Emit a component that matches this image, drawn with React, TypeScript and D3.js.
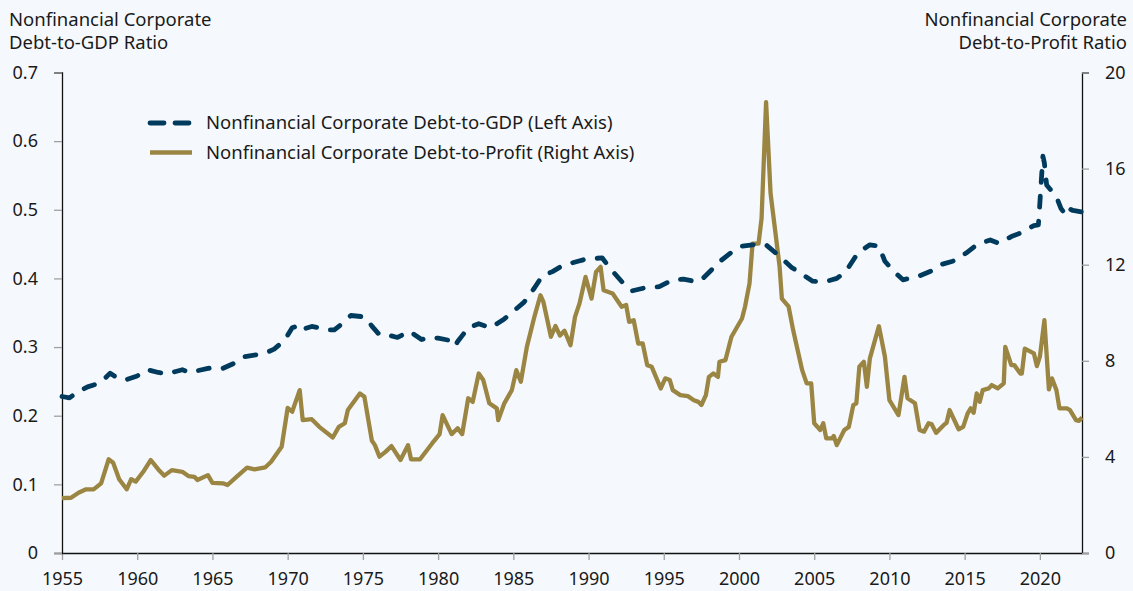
import React, { useEffect, useRef } from 'react';
import * as d3 from 'd3';

// Nonfinancial corporate debt-to-GDP (left axis), [year, ratio]
const debtToGdp: [number, number][] = [
  [1955.0, 0.228], [1955.5, 0.226], [1956.0, 0.234], [1956.7, 0.242], [1957.3, 0.246],
  [1957.7, 0.251], [1958.2, 0.262], [1958.6, 0.256], [1959.2, 0.252], [1959.9, 0.257],
  [1960.4, 0.262], [1960.7, 0.267], [1961.4, 0.263], [1962.0, 0.261], [1962.5, 0.264],
  [1963.0, 0.267], [1963.5, 0.263], [1963.9, 0.265], [1964.7, 0.269], [1965.2, 0.270],
  [1965.7, 0.269], [1966.5, 0.277], [1967.1, 0.286], [1968.0, 0.289], [1968.7, 0.293],
  [1969.1, 0.297], [1969.8, 0.310], [1970.3, 0.328], [1970.8, 0.332], [1971.0, 0.326],
  [1971.6, 0.330], [1972.1, 0.328], [1972.6, 0.325], [1973.1, 0.325], [1973.5, 0.332],
  [1974.2, 0.346], [1975.1, 0.344], [1975.7, 0.328], [1976.1, 0.318], [1976.6, 0.318],
  [1977.3, 0.314], [1978.1, 0.323], [1978.9, 0.311], [1979.4, 0.314], [1980.0, 0.313],
  [1980.7, 0.310], [1981.1, 0.301], [1981.3, 0.308], [1982.0, 0.328], [1982.7, 0.334],
  [1983.5, 0.328], [1984.4, 0.341], [1985.1, 0.354], [1985.7, 0.365], [1986.4, 0.386],
  [1986.9, 0.403], [1987.6, 0.410], [1988.3, 0.419], [1989.3, 0.425], [1989.8, 0.428],
  [1990.9, 0.430], [1991.5, 0.413], [1992.3, 0.393], [1992.9, 0.382], [1993.9, 0.387],
  [1994.7, 0.388], [1995.6, 0.398], [1996.3, 0.399], [1997.2, 0.395], [1997.6, 0.400],
  [1998.2, 0.413], [1998.8, 0.426], [1999.5, 0.438], [2000.2, 0.447], [2000.9, 0.449],
  [2001.8, 0.449], [2002.6, 0.434], [2003.5, 0.416], [2004.0, 0.409], [2004.9, 0.396],
  [2005.7, 0.395], [2006.5, 0.400], [2007.1, 0.410], [2007.9, 0.437], [2008.7, 0.449],
  [2009.3, 0.447], [2009.7, 0.425], [2010.3, 0.410], [2010.9, 0.398], [2011.9, 0.403],
  [2012.7, 0.410], [2013.4, 0.420], [2014.2, 0.425], [2015.1, 0.437], [2015.8, 0.449],
  [2016.7, 0.456], [2017.3, 0.451], [2018.1, 0.461], [2018.7, 0.466], [2019.6, 0.477],
  [2019.9, 0.478], [2020.0, 0.510], [2020.2, 0.578], [2020.3, 0.568], [2020.45, 0.536],
  [2021.1, 0.519], [2021.4, 0.502], [2021.7, 0.493], [2021.9, 0.502], [2022.2, 0.499],
  [2022.75, 0.497],
];

// Nonfinancial corporate debt-to-profit (right axis), [year, ratio]
const debtToProfit: [number, number][] = [
  [1955.0, 2.28], [1955.6, 2.30], [1956.1, 2.51], [1956.6, 2.65], [1957.1, 2.65],
  [1957.6, 2.90], [1958.1, 3.90], [1958.4, 3.76], [1958.8, 3.07], [1959.3, 2.65],
  [1959.6, 3.07], [1959.9, 2.97], [1960.4, 3.38], [1960.9, 3.87], [1961.4, 3.48],
  [1961.8, 3.22], [1962.3, 3.45], [1963.0, 3.38], [1963.4, 3.20], [1963.8, 3.17],
  [1964.0, 3.04], [1964.7, 3.24], [1965.0, 2.92], [1965.7, 2.90], [1966.0, 2.83],
  [1966.6, 3.17], [1967.3, 3.55], [1967.8, 3.48], [1968.5, 3.56], [1968.9, 3.80],
  [1969.6, 4.42], [1970.0, 6.04], [1970.3, 5.88], [1970.8, 6.78], [1971.0, 5.53],
  [1971.6, 5.57], [1972.1, 5.25], [1973.0, 4.81], [1973.4, 5.25], [1973.8, 5.40],
  [1974.0, 5.95], [1974.8, 6.64], [1975.1, 6.50], [1975.6, 4.67], [1975.8, 4.49],
  [1976.1, 4.01], [1976.5, 4.21], [1976.9, 4.45], [1977.5, 3.87], [1978.0, 4.49],
  [1978.2, 3.90], [1978.8, 3.90], [1979.6, 4.56], [1980.1, 4.95], [1980.3, 5.74],
  [1980.9, 4.95], [1981.3, 5.19], [1981.6, 4.95], [1982.0, 6.44], [1982.3, 6.29],
  [1982.7, 7.47], [1983.0, 7.20], [1983.4, 6.23], [1983.9, 6.02], [1984.0, 5.53],
  [1984.4, 6.23], [1984.9, 6.78], [1985.2, 7.61], [1985.5, 7.13], [1985.9, 8.58],
  [1986.4, 9.83], [1986.8, 10.73], [1987.0, 10.45], [1987.5, 9.00], [1987.8, 9.45],
  [1988.1, 9.05], [1988.4, 9.25], [1988.8, 8.65], [1989.1, 9.83], [1989.4, 10.39],
  [1989.8, 11.49], [1990.2, 10.59], [1990.5, 11.70], [1990.8, 11.91], [1991.0, 10.94],
  [1991.6, 10.80], [1992.2, 10.25], [1992.5, 10.32], [1992.7, 9.62], [1993.0, 9.69],
  [1993.3, 8.72], [1993.6, 8.72], [1993.9, 7.82], [1994.2, 7.75], [1994.8, 6.85],
  [1995.1, 7.27], [1995.4, 7.20], [1995.6, 6.78], [1996.1, 6.57], [1996.6, 6.53],
  [1997.0, 6.36], [1997.3, 6.29], [1997.5, 6.16], [1997.8, 6.57], [1998.0, 7.33],
  [1998.3, 7.47], [1998.6, 7.33], [1998.7, 7.96], [1999.1, 8.03], [1999.5, 9.00],
  [2000.2, 9.76], [2000.4, 10.25], [2000.7, 11.22], [2000.9, 12.88], [2001.3, 12.88],
  [2001.5, 13.92], [2001.8, 18.77], [2002.1, 14.96], [2002.4, 13.44], [2002.7, 11.91],
  [2002.85, 10.59], [2003.3, 10.25], [2003.6, 9.28], [2003.8, 8.72], [2004.2, 7.61],
  [2004.5, 7.06], [2004.8, 7.06], [2005.0, 5.40], [2005.4, 5.12], [2005.6, 5.40],
  [2005.8, 4.77], [2006.2, 4.77], [2006.3, 4.87], [2006.5, 4.49], [2007.0, 5.12],
  [2007.3, 5.25], [2007.6, 6.16], [2007.8, 6.23], [2008.0, 7.75], [2008.3, 7.96],
  [2008.5, 6.92], [2008.7, 8.10], [2009.3, 9.44], [2009.7, 8.17], [2010.0, 6.36],
  [2010.6, 5.74], [2011.0, 7.33], [2011.2, 6.44], [2011.7, 6.23], [2012.0, 5.12],
  [2012.3, 5.05], [2012.6, 5.40], [2012.8, 5.37], [2013.1, 5.00], [2013.6, 5.32],
  [2013.8, 5.42], [2014.0, 5.95], [2014.6, 5.15], [2014.9, 5.25], [2015.2, 5.81],
  [2015.4, 6.02], [2015.6, 5.84], [2015.8, 6.64], [2016.0, 6.29], [2016.2, 6.78],
  [2016.6, 6.85], [2016.8, 6.99], [2017.2, 6.85], [2017.6, 7.06], [2017.7, 8.58],
  [2018.1, 7.82], [2018.3, 7.82], [2018.7, 7.47], [2018.8, 7.47], [2019.0, 8.51],
  [2019.6, 8.31], [2019.8, 7.78], [2020.0, 8.17], [2020.3, 9.69], [2020.6, 6.81],
  [2020.8, 7.27], [2021.1, 6.78], [2021.3, 6.02], [2021.8, 6.02], [2022.0, 5.95],
  [2022.4, 5.53], [2022.6, 5.50], [2022.8, 5.64],
];

const yearTicks = [1955, 1960, 1965, 1970, 1975, 1980, 1985, 1990, 1995, 2000, 2005, 2010, 2015, 2020];
const leftTicks = [0, 0.1, 0.2, 0.3, 0.4, 0.5, 0.6, 0.7];
const rightTicks = [0, 4, 8, 12, 16, 20];

const legendItems = [
  { label: 'Nonfinancial Corporate Debt-to-GDP (Left Axis)', dashed: true },
  { label: 'Nonfinancial Corporate Debt-to-Profit (Right Axis)', dashed: false },
];

const NAVY = '#003b5e';
const GOLD = '#9b8543';
const FONT = '"Noto Sans", sans-serif';

const App: React.FC = () => {
  const svgRef = useRef<SVGSVGElement>(null);

  useEffect(() => {
    if (!svgRef.current) return;
    const width = 1133;
    const height = 591;
    const margin = { top: 72.5, right: 51, bottom: 38, left: 62 };

    const svg = d3.select(svgRef.current);
    svg.selectAll('*').remove();
    svg.attr('width', width).attr('height', height);

    svg.append('rect').attr('width', width).attr('height', height).attr('fill', '#f5f9fd');

    const x = d3.scaleLinear().domain([1955, 2022.8]).range([margin.left, width - margin.right]);
    const yLeft = d3.scaleLinear().domain([0, 0.7]).range([height - margin.bottom, margin.top]);
    const yRight = d3.scaleLinear().domain([0, 20]).range([height - margin.bottom, margin.top]);

    const styleAxis = (g: d3.Selection<SVGGElement, unknown, null, undefined>) => {
      g.select('.domain').attr('stroke', '#111').attr('stroke-width', 1.3);
      g.selectAll('.tick line').attr('stroke', '#a0a0a0').attr('stroke-width', 1.3);
      g.selectAll('.tick text')
        .attr('fill', '#1a1a1a')
        .style('font-family', FONT)
        .style('font-size', '18px');
    };

    // Bottom axis
    svg.append('g')
      .attr('transform', `translate(0, ${height - margin.bottom})`)
      .call(d3.axisBottom(x).tickValues(yearTicks).tickFormat(d3.format('d')).tickSize(7).tickSizeOuter(0).tickPadding(12))
      .call(styleAxis);

    // Left axis
    svg.append('g')
      .attr('transform', `translate(${margin.left}, 0)`)
      .call(d3.axisLeft(yLeft).tickValues(leftTicks).tickFormat((d: any) => (d === 0 ? '0' : d3.format('.1f')(d))).tickSize(8).tickSizeOuter(8).tickPadding(16))
      .call(styleAxis);

    // Right axis
    svg.append('g')
      .attr('transform', `translate(${width - margin.right}, 0)`)
      .call(d3.axisRight(yRight).tickValues(rightTicks).tickFormat(d3.format('d')).tickSize(7).tickSizeOuter(7).tickPadding(16))
      .call(styleAxis);

    // Axis titles
    const titleStyle = (t: d3.Selection<SVGTextElement, unknown, null, undefined>) =>
      t.style('font-family', FONT).style('font-size', '18.5px').attr('fill', '#1a1a1a');

    const leftTitle = svg.append('text').attr('x', 9).call(titleStyle);
    leftTitle.append('tspan').attr('x', 9).attr('y', 26).text('Nonfinancial Corporate');
    leftTitle.append('tspan').attr('x', 9).attr('y', 49).text('Debt-to-GDP Ratio');

    const rightTitle = svg.append('text').attr('text-anchor', 'end').call(titleStyle);
    rightTitle.append('tspan').attr('x', 1127).attr('y', 26).text('Nonfinancial Corporate');
    rightTitle.append('tspan').attr('x', 1127).attr('y', 49).text('Debt-to-Profit Ratio');

    // Lines
    const lineLeft = d3.line<[number, number]>().x(d => x(d[0])).y(d => yLeft(d[1]));
    const lineRight = d3.line<[number, number]>().x(d => x(d[0])).y(d => yRight(d[1]));

    svg.append('path')
      .datum(debtToProfit)
      .attr('d', lineRight)
      .attr('fill', 'none')
      .attr('stroke', GOLD)
      .attr('stroke-width', 4.3)
      .attr('stroke-linejoin', 'round');

    svg.append('path')
      .datum(debtToGdp)
      .attr('d', lineLeft)
      .attr('fill', 'none')
      .attr('stroke', NAVY)
      .attr('stroke-width', 4.8)
      .attr('stroke-dasharray', '11 14')
      .attr('stroke-linecap', 'round')
      .attr('stroke-linejoin', 'round');

    // Legend
    const legend = svg.append('g');
    legendItems.forEach((item, i) => {
      const ly = 123 + i * 29.5;
      legend.append('line')
        .attr('x1', 150).attr('x2', item.dashed ? 190 : 192)
        .attr('y1', ly).attr('y2', ly)
        .attr('stroke', item.dashed ? NAVY : GOLD)
        .attr('stroke-width', item.dashed ? 4.8 : 4.3)
        .attr('stroke-linecap', item.dashed ? 'round' : 'butt')
        .attr('stroke-dasharray', item.dashed ? '14 11' : null);
      legend.append('text')
        .attr('x', 206)
        .attr('y', ly)
        .attr('dy', '0.35em')
        .style('font-family', FONT)
        .style('font-size', '18.5px')
        .attr('fill', '#1a1a1a')
        .text(item.label);
    });
  }, []);

  return (
    <div style={{ position: 'absolute', left: 0, top: 0 }}>
      <svg ref={svgRef} style={{ display: 'block' }} />
    </div>
  );
};

export default App;
